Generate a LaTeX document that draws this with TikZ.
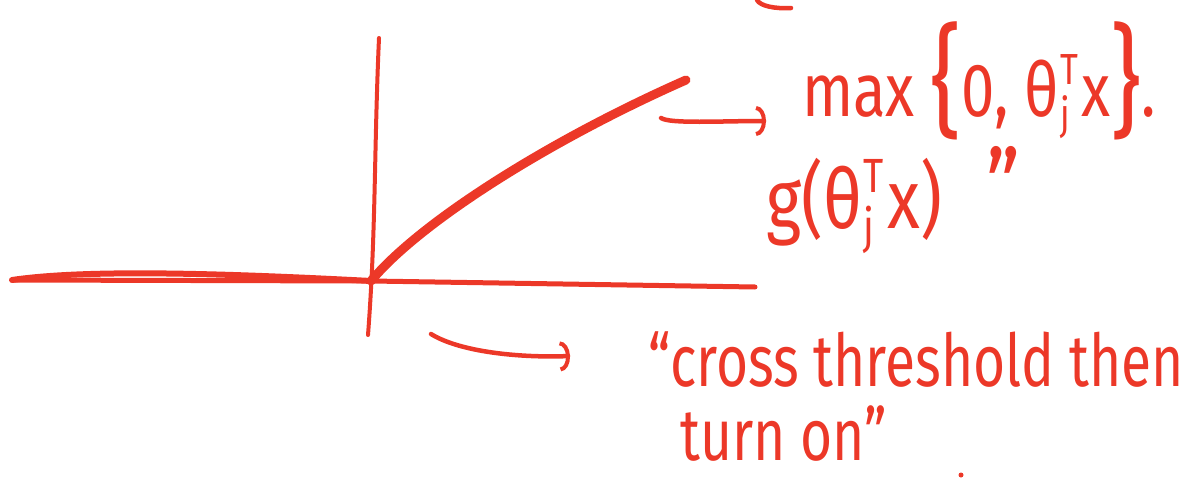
\documentclass[tikz,border=0pt]{standalone}
\usepackage{graphicx}
\usepackage{fontspec}
\setmainfont{Fira Sans}
\usetikzlibrary{arrows.meta}

\definecolor{inkred}{RGB}{236,56,40}
% stretched handwriting-like letters: \hand{x scale}{y scale}{text}
\newcommand\hand[3]{\scalebox{#1}[#2]{#3}}
\newcommand\idx[1]{{\fontsize{30}{30}\selectfont #1}}
\newcommand\thj{θ\kern1pt\raisebox{-0.35ex}{\makebox[0pt][l]{\idx{j}}}\raisebox{0.8ex}{\idx{T}}\kern3pt}
\newcommand\bigbrace[1]{\raisebox{-0.2ex}{\fontsize{84}{84}\selectfont #1}}

\begin{document}
\begin{tikzpicture}[
	x=1pt, y=-1pt,
	% Define the style for the pen strokes and the labels
	pen/.style={draw=inkred, line width=4.5pt, line cap=round, line join=round},
	barb/.style={-{Arc Barb[length=10pt, width=30pt, line width=4pt]}},
	every node/.style={text=inkred, font=\fontsize{52}{60}\selectfont, inner sep=0pt, anchor=base west}
	]
	\useasboundingbox (0,0) rectangle (1203,479);
	
	% --- AXES ---
	% Format: \coordinate (name) at (x,y);
	
	\coordinate (xl) at (12,280);
	\coordinate (o) at (371,281);
	\coordinate (xr) at (755,287);
	\coordinate (yt) at (379,38);
	\coordinate (yb) at (368,335);
	\coordinate (k) at (686,80);
	
	\draw[pen, line width=6pt] (xl) .. controls (80,270) and (200,272) .. (o);
	\draw[pen, line width=5pt] (xl) -- (o) -- (xr);
	\draw[pen, line width=4pt] (yt) .. controls (374,150) and (376,230) .. (yb);
	\draw[pen, line width=9pt] (o) .. controls (420,222) and (550,140) .. (k);
	
	% --- LABELS ---
	
	\node (relu) at (802,116) {\hand{1.15}{1.45}{max \bigbrace{\{}0, \thj x\bigbrace{\}}.}};
	\node (gfun) at (766,228) {\hand{1.3}{1.6}{g(\thj x)\hspace{34pt}\raisebox{0.1ex}{\fontsize{64}{64}\selectfont ”}}};
	\node (thresh1) at (648,386) {\hand{1.06}{1.4}{“cross threshold then}};
	\node (thresh2) at (680,460) {\hand{1.06}{1.4}{turn on”}};
	
	% --- ARROWS ---
	
	\coordinate (a1s) at (661,118);
	\coordinate (a1e) at (766,121);
	\coordinate (a2s) at (431,334);
	\coordinate (a2e) at (570,356);
	
	\draw[pen, barb] (a1s) .. controls (670,124) and (720,121) .. (a1e);
	\draw[pen, barb] (a2s) .. controls (460,352) and (520,358) .. (a2e);
	
	% cut-off stroke at the top and stray dot
	\draw[pen] (757,0) .. controls (760,6) and (775,9) .. (791,8);
	\fill[inkred] (961,475) circle (2.5pt);
	
\end{tikzpicture}
\end{document}
